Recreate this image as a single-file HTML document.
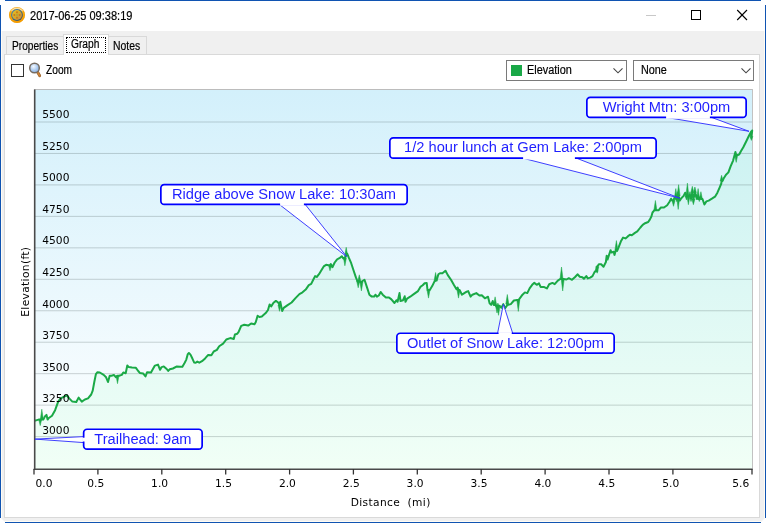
<!DOCTYPE html>
<html lang="en">
<head>
<meta charset="utf-8">
<title>2017-06-25 09:38:19</title>
<style>
html,body{margin:0;padding:0;}
body{width:766px;height:523px;overflow:hidden;background:#fff;position:relative;font-family:"Liberation Sans",sans-serif;font-size:12px;color:#000;}
.abs{position:absolute;}
.blue{background:#1054b2;}
.cream{background:#fffcf4;}
#client{left:1px;top:31px;width:764px;height:491px;background:#f0f0f0;}
#titlebar{left:1px;top:1px;width:764px;height:30px;background:#fff;}
.tx{-webkit-text-stroke:0.2px #000;position:absolute;white-space:nowrap;transform-origin:0 0;line-height:14px;}
#panel{left:4px;top:54px;width:754px;height:462px;background:#fff;border:1px solid #d9d9d9;}
.tab{position:absolute;box-sizing:border-box;border:1px solid #d9d9d9;border-bottom:none;background:#f0f0f0;}
.tab.sel{background:#fff;}
.focus{position:absolute;left:66px;top:37px;width:38px;height:14px;border:1px dotted #000;}
.cb{left:11px;top:64px;width:11px;height:11px;border:1px solid #333;background:#fff;}
.combo{position:absolute;box-sizing:border-box;top:60px;height:21px;border:1px solid #7a7a7a;background:#fff;}
.chart{position:absolute;left:0;top:0;}
.chart text{font-family:"DejaVu Sans","Liberation Sans",sans-serif;font-size:10.67px;fill:#000;}
.chart .grid line{stroke:rgba(60,75,75,0.24);stroke-width:1;}
.chart .axis line{stroke:#4a4a4a;stroke-width:1.6;}
.chart .ticks line{stroke:#333;stroke-width:1.3;}
.chart .co rect{fill:#fff;stroke:#0000ff;stroke-width:1.7;}
.chart .co .ptr{fill:#fff;stroke:#2a2aff;stroke-width:0.9;}
.chart .co .seam{stroke:#fff;stroke-width:3;}
.chart .co text{font-family:"Liberation Sans",sans-serif;font-size:14.67px;fill:#0000ff;fill-opacity:0.88;}
</style>
</head>
<body>
<!-- window frame -->
<div class="abs" id="titlebar"></div>
<div class="abs" id="client"></div>
<div class="abs cream" style="left:1px;top:31px;width:1px;height:490px"></div>
<div class="abs cream" style="left:764px;top:31px;width:1px;height:490px"></div>
<div class="abs cream" style="left:5px;top:521px;width:756px;height:1px"></div>
<div class="abs blue" style="left:5px;top:0;width:756px;height:1px"></div>
<div class="abs blue" style="left:5px;top:522px;width:756px;height:1px"></div>
<div class="abs blue" style="left:0;top:5px;width:1px;height:513px"></div>
<div class="abs blue" style="left:765px;top:5px;width:1px;height:513px"></div>
<div class="abs" style="left:0;top:518px;width:5px;height:5px;background:#fff"></div>
<div class="abs" style="left:761px;top:518px;width:5px;height:5px;background:#fff"></div>
<div class="abs" style="left:1px;top:518px;width:4px;height:4px;background:#f0f0f0;clip-path:polygon(0 0,100% 0,100% 100%)"></div>
<div class="abs" style="left:761px;top:518px;width:4px;height:4px;background:#f0f0f0;clip-path:polygon(0 0,100% 0,0 100%)"></div>

<!-- title bar -->
<svg class="abs" style="left:8px;top:6px" width="18" height="18" viewBox="0 0 18 18">
<defs>
<linearGradient id="ic0" x1="0" y1="0" x2="0" y2="1"><stop offset="0" stop-color="#ffd98a"/><stop offset="0.3" stop-color="#f8ac10"/><stop offset="1" stop-color="#f59c00"/></linearGradient>
<linearGradient id="ic1" x1="0" y1="0" x2="1" y2="1"><stop offset="0" stop-color="#3f86c4"/><stop offset="0.55" stop-color="#2f6590"/><stop offset="1" stop-color="#4a4a48"/></linearGradient>
<linearGradient id="ic2" x1="0" y1="0" x2="1" y2="1"><stop offset="0" stop-color="#e6c224"/><stop offset="0.5" stop-color="#d8a828"/><stop offset="1" stop-color="#c08850"/></linearGradient>
</defs>
<circle cx="9" cy="9" r="8" fill="url(#ic0)"/>
<path d="M3.6 4.6 A7 7 0 0 1 14.4 4.6" fill="none" stroke="#fff6dc" stroke-width="1.1" stroke-linecap="round" opacity="0.85"/><circle cx="9" cy="9" r="7.6" fill="none" stroke="#ee9800" stroke-width="0.8" opacity="0.6"/>
<circle cx="9" cy="9" r="5.9" fill="url(#ic1)"/>
<circle cx="9" cy="9" r="4.9" fill="url(#ic2)"/>
<g fill="#c9761a"><circle cx="9" cy="6.3" r="1"/><circle cx="9" cy="11.7" r="1"/><circle cx="6.3" cy="9" r="1"/><circle cx="11.7" cy="9" r="1"/></g>
<circle cx="9" cy="9" r="1.2" fill="#b3a63a"/>
</svg>
<div class="tx" id="t_title" style="left:29.6px;top:9px;font-size:12px;transform:scaleX(0.919)">2017-06-25 09:38:19</div>
<svg class="abs" style="left:640px;top:4px" width="116" height="22" viewBox="0 0 116 22">
<line x1="6" y1="11.5" x2="16" y2="11.5" stroke="#c8c8c8" stroke-width="1"/>
<rect x="51.5" y="6.5" width="9" height="9" fill="none" stroke="#000" stroke-width="1"/>
<path d="M97.2 6 L107 16 M107 6 L97.2 16" stroke="#000" stroke-width="1.1" fill="none"/>
</svg>

<!-- tabs -->
<div class="abs" id="panel"></div>
<div class="tab" style="left:6px;top:36px;width:58px;height:18px"></div>
<div class="tab" style="left:108px;top:36px;width:39px;height:18px"></div>
<div class="tab sel" style="left:63px;top:34px;width:46px;height:21px"></div>
<div class="focus"></div>
<div class="tx" id="t_prop" style="left:12px;top:38.5px;transform:scaleX(0.846)">Properties</div>
<div class="tx" id="t_graph" style="left:70.8px;top:36.5px;transform:scaleX(0.851)">Graph</div>
<div class="tx" id="t_notes" style="left:113.2px;top:38.5px;transform:scaleX(0.867)">Notes</div>

<!-- toolbar -->
<div class="abs cb"></div>
<svg class="abs" style="left:27px;top:60px" width="16" height="19" viewBox="0 0 16 19">
<defs><radialGradient id="mg" cx="0.4" cy="0.35" r="0.7"><stop offset="0" stop-color="#f4f9ff"/><stop offset="0.6" stop-color="#a9c9f0"/><stop offset="1" stop-color="#86aee0"/></radialGradient></defs>
<line x1="10.7" y1="12.3" x2="12.7" y2="15.8" stroke="#8a5a2a" stroke-width="2.8" stroke-linecap="round"/><line x1="10.7" y1="12.3" x2="12.7" y2="15.8" stroke="#d08338" stroke-width="1.8" stroke-linecap="round"/>
<circle cx="7.5" cy="8.0" r="4.8" fill="url(#mg)" stroke="#766c62" stroke-width="1.5"/>
</svg>
<div class="tx" id="t_zoom" style="left:46.2px;top:62.5px;transform:scaleX(0.85)">Zoom</div>

<div class="combo" style="left:506px;width:121px"></div>
<div class="combo" style="left:633px;width:121px"></div>
<div class="abs" style="left:511px;top:65px;width:11px;height:11px;background:#19a847"></div>
<div class="tx" id="t_elev" style="left:527px;top:63px;transform:scaleX(0.907)">Elevation</div>
<div class="tx" id="t_none" style="left:640.5px;top:63px;transform:scaleX(0.9)">None</div>
<svg class="abs" style="left:612px;top:66px" width="12" height="9" viewBox="0 0 12 9"><path d="M1.5 2.3 L6 6.8 L10.5 2.3" fill="none" stroke="#444" stroke-width="1.1"/></svg>
<svg class="abs" style="left:739.5px;top:66px" width="12" height="9" viewBox="0 0 12 9"><path d="M1.5 2.3 L6 6.8 L10.5 2.3" fill="none" stroke="#444" stroke-width="1.1"/></svg>

<svg class="chart" width="766" height="523" viewBox="0 0 766 523">
<defs>
<linearGradient id="bg" gradientUnits="userSpaceOnUse" x1="0" y1="90" x2="0" y2="469">
<stop offset="0" stop-color="#d3f0fb"/><stop offset="1" stop-color="#ffffff"/>
</linearGradient>
<linearGradient id="fillg" gradientUnits="userSpaceOnUse" x1="0" y1="90" x2="0" y2="469">
<stop offset="0" stop-color="#c7f0f2"/><stop offset="1" stop-color="#f1fff6"/>
</linearGradient>
</defs>
<rect x="35" y="90" width="717.5" height="379" fill="url(#bg)"/>
<path d="M35.0 420.4 L36.0 420.4 L38.6 419.6 L40.2 424.6 L41.8 410.2 L43.3 419.6 L44.9 416.5 L46.5 414.9 L47.6 419.6 L48.8 418.0 L52.0 415.7 L55.1 410.2 L58.2 401.6 L60.6 398.4 L63.7 396.9 L66.9 395.3 L69.2 398.4 L72.4 401.6 L76.3 402.0 L78.6 397.6 L81.8 401.6 L84.9 399.5 L88.0 398.4 L91.2 394.5 L92.7 390.6 L94.3 382.0 L95.9 374.1 L97.5 372.2 L99.8 372.5 L103.7 374.9 L106.1 377.3 L108.0 382.0 L109.7 375.7 L111.6 375.7 L113.9 374.9 L116.0 377.3 L117.5 382.7 L119.1 375.7 L121.8 374.9 L123.3 372.5 L125.7 373.3 L127.3 365.5 L128.8 367.1 L132.0 367.5 L135.9 367.8 L138.2 371.0 L139.8 372.9 L143.1 373.4 L145.5 376.5 L147.1 372.2 L151.0 372.5 L152.5 369.8 L154.9 365.6 L158.0 364.6 L160.1 369.8 L161.6 367.1 L163.8 366.4 L166.7 369.0 L168.2 370.9 L169.8 369.3 L172.9 368.5 L176.9 366.4 L180.0 366.7 L182.4 366.7 L184.7 362.7 L186.3 359.6 L187.8 354.1 L188.9 353.0 L190.5 354.6 L192.5 358.8 L194.1 362.4 L195.7 362.7 L197.3 361.6 L199.3 362.7 L202.0 361.2 L205.1 358.4 L208.2 354.9 L211.4 355.2 L213.7 351.5 L216.9 349.9 L219.2 346.3 L223.1 343.6 L226.3 339.5 L230.2 338.1 L233.8 338.9 L234.9 334.5 L237.3 333.7 L238.5 332.2 L241.2 325.9 L244.3 324.8 L248.2 325.6 L251.1 323.5 L254.5 324.3 L255.8 322.0 L257.6 315.7 L259.4 317.0 L261.8 316.5 L265.7 313.1 L268.0 310.0 L269.6 304.5 L271.2 306.4 L273.5 302.8 L275.9 300.9 L278.2 302.5 L279.5 310.3 L280.3 301.7 L282.2 311.1 L283.7 307.9 L287.6 305.1 L291.6 302.5 L295.5 298.1 L299.4 294.1 L302.5 292.3 L305.7 289.6 L308.8 285.2 L311.2 283.9 L313.5 279.2 L315.1 276.1 L316.7 277.0 L319.0 274.2 L321.4 270.3 L323.7 266.4 L326.1 264.8 L328.4 265.3 L330.0 269.8 L330.8 264.0 L332.4 267.2 L334.7 262.5 L337.1 259.3 L339.4 258.2 L341.8 256.2 L343.3 258.5 L344.9 264.8 L345.7 255.4 L346.2 248.3 L347.3 253.8 L348.8 257.7 L351.2 263.2 L353.5 270.3 L355.9 277.4 L357.5 281.3 L358.2 286.8 L359.3 275.8 L360.6 282.1 L361.4 289.9 L362.2 281.3 L364.5 279.7 L367.1 287.6 L369.4 294.7 L371.8 296.6 L374.1 296.6 L375.4 294.7 L376.9 296.7 L378.8 295.5 L380.7 292.0 L382.7 294.7 L385.9 297.5 L389.0 297.5 L391.4 299.4 L394.5 303.0 L396.4 300.2 L397.6 301.8 L399.5 293.1 L400.5 301.0 L403.1 300.2 L404.7 296.3 L405.5 301.8 L407.1 298.6 L410.2 296.7 L414.1 293.9 L418.0 291.1 L420.4 286.9 L422.7 285.3 L424.6 283.3 L426.7 282.9 L427.5 290.0 L428.5 297.1 L429.8 290.0 L432.2 286.1 L434.5 281.4 L435.6 273.5 L436.5 280.6 L438.4 274.3 L440.0 273.2 L442.4 273.2 L445.5 270.7 L447.8 275.1 L451.0 279.8 L454.1 285.3 L456.5 289.2 L457.6 287.6 L458.5 297.1 L459.6 290.0 L462.0 294.7 L464.3 293.1 L466.7 291.6 L468.2 291.1 L470.6 296.7 L472.4 294.7 L476.3 293.1 L479.4 295.5 L481.8 295.2 L484.9 298.3 L488.0 296.7 L489.6 303.3 L491.2 304.9 L492.7 301.0 L493.8 304.9 L495.1 297.8 L495.9 305.7 L497.0 312.0 L497.9 304.1 L498.5 314.3 L499.5 305.7 L501.4 307.7 L503.3 304.1 L505.3 308.0 L506.9 305.7 L507.3 295.5 L508.1 304.9 L510.8 304.1 L513.9 300.5 L517.1 299.9 L518.3 310.4 L519.4 298.9 L522.5 294.7 L524.9 292.4 L527.3 293.1 L529.6 288.4 L532.7 284.2 L534.3 282.9 L536.7 284.8 L539.0 283.3 L540.6 286.9 L543.7 286.9 L546.9 288.4 L549.2 284.2 L552.4 282.9 L554.7 284.2 L557.8 280.6 L560.2 279.0 L561.5 268.0 L562.1 279.0 L562.7 290.0 L563.5 279.0 L566.5 279.5 L568.8 278.2 L572.0 279.8 L575.1 277.0 L577.5 274.3 L579.8 276.7 L582.4 277.2 L583.9 278.7 L586.3 276.1 L587.8 278.4 L590.2 277.6 L592.5 276.1 L594.9 271.4 L596.5 266.7 L597.3 272.2 L598.8 264.3 L601.2 264.3 L603.5 266.7 L605.9 262.0 L606.7 255.7 L607.5 259.6 L609.8 252.5 L610.6 250.2 L611.4 252.5 L613.7 251.8 L614.5 254.9 L615.8 250.2 L616.4 241.6 L617.0 251.0 L618.4 247.8 L620.8 241.6 L623.1 237.6 L625.5 238.4 L627.8 236.4 L629.9 234.8 L631.8 235.3 L634.9 232.9 L637.3 231.4 L640.4 227.5 L642.7 224.8 L645.1 223.2 L648.2 222.0 L649.8 219.6 L651.4 216.5 L652.5 212.5 L654.5 210.2 L655.4 201.5 L656.4 210.2 L658.5 210.3 L660.9 207.5 L664.0 207.5 L667.2 205.2 L669.5 201.8 L671.1 198.7 L672.4 200.6 L673.5 205.3 L674.5 197.5 L675.8 189.6 L676.6 200.6 L677.4 192.7 L678.2 208.4 L678.6 185.7 L679.7 200.6 L681.3 198.2 L683.6 195.9 L685.2 192.7 L686.5 199.0 L687.4 184.1 L688.4 203.7 L689.9 192.7 L691.0 200.6 L692.3 187.3 L693.4 203.7 L694.9 188.0 L696.5 199.0 L698.1 189.6 L699.3 200.6 L700.9 192.7 L702.5 199.0 L704.4 204.5 L706.4 201.4 L708.7 200.6 L711.9 198.7 L715.0 196.7 L717.4 192.7 L719.7 187.3 L721.3 183.5 L721.6 176.3 L722.4 181.0 L723.6 178.6 L726.0 174.7 L728.4 172.4 L730.7 166.1 L733.1 160.6 L735.4 152.0 L736.2 161.4 L737.8 155.1 L739.3 154.3 L740.9 151.2 L743.3 147.3 L746.4 141.0 L748.7 136.3 L751.1 131.6 L751.4 139.4 L752.2 130.5 L752.5 469 L35 469 Z" fill="url(#fillg)"/>
<g class="grid">
<line x1="35" x2="752.5" y1="122.00" y2="122.00"/><line x1="35" x2="752.5" y1="153.46" y2="153.46"/><line x1="35" x2="752.5" y1="184.92" y2="184.92"/><line x1="35" x2="752.5" y1="216.38" y2="216.38"/><line x1="35" x2="752.5" y1="247.84" y2="247.84"/><line x1="35" x2="752.5" y1="279.30" y2="279.30"/><line x1="35" x2="752.5" y1="310.76" y2="310.76"/><line x1="35" x2="752.5" y1="342.22" y2="342.22"/><line x1="35" x2="752.5" y1="373.68" y2="373.68"/><line x1="35" x2="752.5" y1="405.14" y2="405.14"/><line x1="35" x2="752.5" y1="436.60" y2="436.60"/>
</g>
<line x1="34" y1="89.5" x2="753" y2="89.5" stroke="#bcbcbc" stroke-width="1"/>
<line x1="752.5" y1="89" x2="752.5" y2="469" stroke="#c2c2c2" stroke-width="1"/>
<path d="M35.0 420.4 L36.0 420.4 L38.6 419.6 L40.2 419.6 L41.8 419.6 L43.3 419.6 L44.9 416.5 L46.5 414.9 L47.6 419.6 L48.8 418.0 L52.0 415.7 L55.1 410.2 L58.2 401.6 L60.6 398.4 L63.7 396.9 L66.9 395.3 L69.2 398.4 L72.4 401.6 L76.3 402.0 L78.6 397.6 L81.8 401.6 L84.9 399.5 L88.0 398.4 L91.2 394.5 L92.7 390.6 L94.3 382.0 L95.9 374.1 L97.5 372.2 L99.8 372.5 L103.7 374.9 L106.1 377.3 L108.0 382.0 L109.7 375.7 L111.6 375.7 L113.9 374.9 L116.0 377.3 L117.5 375.7 L119.1 375.7 L121.8 374.9 L123.3 372.5 L125.7 373.3 L127.3 365.5 L128.8 367.1 L132.0 367.5 L135.9 367.8 L138.2 371.0 L139.8 372.9 L143.1 373.4 L145.5 376.5 L147.1 372.2 L151.0 372.5 L152.5 369.8 L154.9 365.6 L158.0 364.6 L160.1 369.8 L161.6 367.1 L163.8 366.4 L166.7 369.0 L168.2 370.9 L169.8 369.3 L172.9 368.5 L176.9 366.4 L180.0 366.7 L182.4 366.7 L184.7 362.7 L186.3 359.6 L187.8 354.1 L188.9 353.0 L190.5 354.6 L192.5 358.8 L194.1 362.4 L195.7 362.7 L197.3 361.6 L199.3 362.7 L202.0 361.2 L205.1 358.4 L208.2 354.9 L211.4 355.2 L213.7 351.5 L216.9 349.9 L219.2 346.3 L223.1 343.6 L226.3 339.5 L230.2 338.1 L233.8 338.9 L234.9 334.5 L237.3 333.7 L238.5 332.2 L241.2 325.9 L244.3 324.8 L248.2 325.6 L251.1 323.5 L254.5 324.3 L255.8 322.0 L257.6 315.7 L259.4 317.0 L261.8 316.5 L265.7 313.1 L268.0 310.0 L269.6 304.5 L271.2 306.4 L273.5 302.8 L275.9 300.9 L278.2 302.5 L279.5 305.1 L280.3 301.7 L282.2 311.1 L283.7 307.9 L287.6 305.1 L291.6 302.5 L295.5 298.1 L299.4 294.1 L302.5 292.3 L305.7 289.6 L308.8 285.2 L311.2 283.9 L313.5 279.2 L315.1 276.1 L316.7 277.0 L319.0 274.2 L321.4 270.3 L323.7 266.4 L326.1 264.8 L328.4 265.3 L330.0 265.3 L330.8 264.0 L332.4 267.2 L334.7 262.5 L337.1 259.3 L339.4 258.2 L341.8 256.2 L343.3 258.5 L344.9 257.7 L345.7 255.4 L346.2 255.4 L347.3 253.8 L348.8 257.7 L351.2 263.2 L353.5 270.3 L355.9 277.4 L357.5 281.3 L358.2 281.3 L359.3 281.3 L360.6 282.1 L361.4 282.1 L362.2 281.3 L364.5 279.7 L367.1 287.6 L369.4 294.7 L371.8 296.6 L374.1 296.6 L375.4 294.7 L376.9 296.7 L378.8 295.5 L380.7 292.0 L382.7 294.7 L385.9 297.5 L389.0 297.5 L391.4 299.4 L394.5 303.0 L396.4 300.2 L397.6 301.8 L399.5 293.1 L400.5 301.0 L403.1 300.2 L404.7 296.3 L405.5 301.8 L407.1 298.6 L410.2 296.7 L414.1 293.9 L418.0 291.1 L420.4 286.9 L422.7 285.3 L424.6 283.3 L426.7 282.9 L427.5 290.0 L428.5 290.0 L429.8 290.0 L432.2 286.1 L434.5 281.4 L435.6 280.6 L436.5 280.6 L438.4 274.3 L440.0 273.2 L442.4 273.2 L445.5 270.7 L447.8 275.1 L451.0 279.8 L454.1 285.3 L456.5 289.2 L457.6 287.6 L458.5 290.0 L459.6 290.0 L462.0 294.7 L464.3 293.1 L466.7 291.6 L468.2 291.1 L470.6 296.7 L472.4 294.7 L476.3 293.1 L479.4 295.5 L481.8 295.2 L484.9 298.3 L488.0 296.7 L489.6 303.3 L491.2 304.9 L492.7 301.0 L493.8 304.9 L495.1 304.9 L495.9 305.7 L497.0 305.7 L497.9 307.1 L498.5 305.7 L499.5 305.7 L501.4 307.7 L503.3 304.1 L505.3 308.0 L506.9 305.7 L507.3 304.1 L508.1 304.9 L510.8 304.1 L513.9 300.5 L517.1 299.9 L518.3 299.9 L519.4 298.9 L522.5 294.7 L524.9 292.4 L527.3 293.1 L529.6 288.4 L532.7 284.2 L534.3 282.9 L536.7 284.8 L539.0 283.3 L540.6 286.9 L543.7 286.9 L546.9 288.4 L549.2 284.2 L552.4 282.9 L554.7 284.2 L557.8 280.6 L560.2 279.0 L561.5 279.0 L562.1 279.0 L562.7 279.0 L563.5 279.0 L566.5 279.5 L568.8 278.2 L572.0 279.8 L575.1 277.0 L577.5 274.3 L579.8 276.7 L582.4 277.2 L583.9 278.7 L586.3 276.1 L587.8 278.4 L590.2 277.6 L592.5 276.1 L594.9 271.4 L596.5 271.4 L597.3 266.7 L598.8 264.3 L601.2 264.3 L603.5 266.7 L605.9 262.0 L606.7 255.7 L607.5 259.6 L609.8 252.5 L610.6 250.2 L611.4 252.5 L613.7 251.8 L614.5 254.9 L615.8 250.2 L616.4 250.2 L617.0 251.0 L618.4 247.8 L620.8 241.6 L623.1 237.6 L625.5 238.4 L627.8 236.4 L629.9 234.8 L631.8 235.3 L634.9 232.9 L637.3 231.4 L640.4 227.5 L642.7 224.8 L645.1 223.2 L648.2 222.0 L649.8 219.6 L651.4 216.5 L652.5 212.5 L654.5 210.2 L655.4 210.2 L656.4 210.2 L658.5 210.3 L660.9 207.5 L664.0 207.5 L667.2 205.2 L669.5 201.8 L671.1 198.7 L672.4 200.6 L673.5 200.6 L674.5 197.5 L675.8 198.7 L676.6 197.6 L677.4 198.2 L678.2 197.5 L678.6 195.9 L679.7 200.6 L681.3 198.2 L683.6 195.9 L685.2 192.7 L686.5 196.0 L687.4 195.9 L688.4 195.9 L689.9 195.7 L691.0 197.6 L692.3 192.7 L693.4 199.0 L694.9 192.7 L696.5 196.0 L698.1 199.0 L699.3 197.6 L700.9 199.0 L702.5 199.0 L704.4 204.5 L706.4 201.4 L708.7 200.6 L711.9 198.7 L715.0 196.7 L717.4 192.7 L719.7 187.3 L721.3 183.5 L721.6 181.0 L722.4 181.0 L723.6 178.6 L726.0 174.7 L728.4 172.4 L730.7 166.1 L733.1 160.6 L735.4 152.0 L736.2 155.1 L737.8 155.1 L739.3 154.3 L740.9 151.2 L743.3 147.3 L746.4 141.0 L748.7 136.3 L751.1 131.6 L751.4 136.4 L752.2 130.5" fill="none" stroke="#1aa946" stroke-width="2" stroke-linejoin="round" stroke-linecap="round"/>
<g fill="#1aa946" stroke="#1aa946" stroke-width="0.5" stroke-linejoin="miter"><polygon points="38.7,419.6 40.2,425.6 41.7,419.6"/><polygon points="40.3,419.6 41.8,409.2 43.3,419.6"/><polygon points="116.0,375.7 117.5,383.7 119.0,375.7"/><polygon points="278.0,305.1 279.5,311.3 281.0,305.1"/><polygon points="328.5,265.3 330.0,270.8 331.5,265.3"/><polygon points="343.4,257.7 344.9,265.8 346.4,257.7"/><polygon points="344.7,255.4 346.2,247.3 347.7,255.4"/><polygon points="356.7,281.3 358.2,287.8 359.7,281.3"/><polygon points="357.8,281.3 359.3,274.8 360.8,281.3"/><polygon points="359.9,282.1 361.4,290.9 362.9,282.1"/><polygon points="427.0,290.0 428.5,298.1 430.0,290.0"/><polygon points="434.1,280.6 435.6,272.5 437.1,280.6"/><polygon points="457.0,290.0 458.5,298.1 460.0,290.0"/><polygon points="493.6,304.9 495.1,296.8 496.6,304.9"/><polygon points="495.5,305.7 497.0,313.0 498.5,305.7"/><polygon points="496.4,307.1 497.9,303.1 499.4,307.1"/><polygon points="497.0,305.7 498.5,315.3 500.0,305.7"/><polygon points="505.8,304.1 507.3,294.5 508.8,304.1"/><polygon points="516.8,299.9 518.3,311.4 519.8,299.9"/><polygon points="560.0,279.0 561.5,267.0 563.0,279.0"/><polygon points="561.2,279.0 562.7,291.0 564.2,279.0"/><polygon points="595.0,271.4 596.5,265.7 598.0,271.4"/><polygon points="595.8,266.7 597.3,273.2 598.8,266.7"/><polygon points="614.9,250.2 616.4,240.6 617.9,250.2"/><polygon points="653.9,210.2 655.4,200.5 656.9,210.2"/><polygon points="672.0,200.6 673.5,206.3 675.0,200.6"/><polygon points="674.3,198.7 675.8,188.6 677.3,198.7"/><polygon points="675.1,197.6 676.6,201.6 678.1,197.6"/><polygon points="675.9,198.2 677.4,191.7 678.9,198.2"/><polygon points="676.7,197.5 678.2,209.4 679.7,197.5"/><polygon points="677.1,195.9 678.6,184.7 680.1,195.9"/><polygon points="685.0,196.0 686.5,200.0 688.0,196.0"/><polygon points="685.9,195.9 687.4,183.1 688.9,195.9"/><polygon points="686.9,195.9 688.4,204.7 689.9,195.9"/><polygon points="688.4,195.7 689.9,191.7 691.4,195.7"/><polygon points="689.5,197.6 691.0,201.6 692.5,197.6"/><polygon points="690.8,192.7 692.3,186.3 693.8,192.7"/><polygon points="691.9,199.0 693.4,204.7 694.9,199.0"/><polygon points="693.4,192.7 694.9,187.0 696.4,192.7"/><polygon points="695.0,196.0 696.5,200.0 698.0,196.0"/><polygon points="696.6,199.0 698.1,188.6 699.6,199.0"/><polygon points="697.8,197.6 699.3,201.6 700.8,197.6"/><polygon points="699.4,199.0 700.9,191.7 702.4,199.0"/><polygon points="720.1,181.0 721.6,175.3 723.1,181.0"/><polygon points="734.7,155.1 736.2,162.4 737.7,155.1"/><polygon points="749.9,136.4 751.4,140.4 752.9,136.4"/></g>
<g class="ylab">
<text x="42.3" y="118.00">5500</text><text x="42.3" y="149.61">5250</text><text x="42.3" y="181.22">5000</text><text x="42.3" y="212.83">4750</text><text x="42.3" y="244.44">4500</text><text x="42.3" y="276.05">4250</text><text x="42.3" y="307.66">4000</text><text x="42.3" y="339.27">3750</text><text x="42.3" y="370.88">3500</text><text x="42.3" y="402.49">3250</text><text x="42.3" y="434.10">3000</text>
</g>
<g class="axis">
<line x1="34.7" y1="89.5" x2="34.7" y2="470"/>
<line x1="33.7" y1="469.2" x2="752.5" y2="469.2"/>
</g>
<g class="ticks">
<line x1="34.0" x2="34.0" y1="469" y2="474.5"/><line x1="97.9" x2="97.9" y1="469" y2="474.5"/><line x1="161.8" x2="161.8" y1="469" y2="474.5"/><line x1="225.7" x2="225.7" y1="469" y2="474.5"/><line x1="289.6" x2="289.6" y1="469" y2="474.5"/><line x1="353.4" x2="353.4" y1="469" y2="474.5"/><line x1="417.3" x2="417.3" y1="469" y2="474.5"/><line x1="481.2" x2="481.2" y1="469" y2="474.5"/><line x1="545.1" x2="545.1" y1="469" y2="474.5"/><line x1="609.0" x2="609.0" y1="469" y2="474.5"/><line x1="672.9" x2="672.9" y1="469" y2="474.5"/><line x1="752" x2="752" y1="469" y2="474.5"/>
</g>
<g class="xlab">
<text x="35.6" y="486.9">0.0</text><text x="95.7" y="486.9" text-anchor="middle">0.5</text><text x="159.6" y="486.9" text-anchor="middle">1.0</text><text x="223.5" y="486.9" text-anchor="middle">1.5</text><text x="287.4" y="486.9" text-anchor="middle">2.0</text><text x="351.2" y="486.9" text-anchor="middle">2.5</text><text x="415.1" y="486.9" text-anchor="middle">3.0</text><text x="479.0" y="486.9" text-anchor="middle">3.5</text><text x="542.9" y="486.9" text-anchor="middle">4.0</text><text x="606.8" y="486.9" text-anchor="middle">4.5</text><text x="670.7" y="486.9" text-anchor="middle">5.0</text><text x="749.3" y="486.9" text-anchor="end">5.6</text>
</g>
<text class="ttl" x="390.7" y="506.2" text-anchor="middle" letter-spacing="0.35" xml:space="preserve">Distance  (mi)</text>
<text class="ttl" transform="translate(29.3 281.7) rotate(-90)" text-anchor="middle" letter-spacing="0.35">Elevation(ft)</text>
<g class="co"><polygon class="ptr" points="279,204.2 346.7,256.6 305,204.2"/><rect x="160.85" y="184.55" width="246.30" height="19.80" rx="3.4" ry="3.4"/><line class="seam" x1="280.10" y1="204.20" x2="303.90" y2="204.20"/><text x="284.0" y="199.05" text-anchor="middle">Ridge above Snow Lake: 10:30am</text></g><g class="co"><polygon class="ptr" points="522,158 679.8,198.2 576,158"/><rect x="389.85" y="137.85" width="266.30" height="20.30" rx="3.4" ry="3.4"/><line class="seam" x1="523.10" y1="158.00" x2="574.90" y2="158.00"/><text x="523.0" y="152.35" text-anchor="middle">1/2 hour lunch at Gem Lake: 2:00pm</text></g><g class="co"><polygon class="ptr" points="665,117.2 749,131.3 711,117.2"/><rect x="586.85" y="97.45" width="159.30" height="19.90" rx="3.4" ry="3.4"/><line class="seam" x1="666.10" y1="117.20" x2="709.90" y2="117.20"/><text x="666.5" y="111.95" text-anchor="middle">Wright Mtn: 3:00pm</text></g><g class="co"><polygon class="ptr" points="497.5,333.6 503.4,304.3 512.8,333.6"/><rect x="396.85" y="333.25" width="217.30" height="19.80" rx="3.4" ry="3.4"/><line class="seam" x1="498.60" y1="333.60" x2="511.70" y2="333.60"/><text x="505.5" y="347.75" text-anchor="middle">Outlet of Snow Lake: 12:00pm</text></g><g class="co"><polygon class="ptr" points="83.7,436.6 35,439.1 83.7,442.6"/><rect x="83.65" y="429.25" width="118.50" height="19.80" rx="3.4" ry="3.4"/><line class="seam" x1="83.70" y1="437.70" x2="83.70" y2="441.50"/><text x="142.9" y="443.75" text-anchor="middle">Trailhead: 9am</text></g>
</svg>
</body>
</html>
